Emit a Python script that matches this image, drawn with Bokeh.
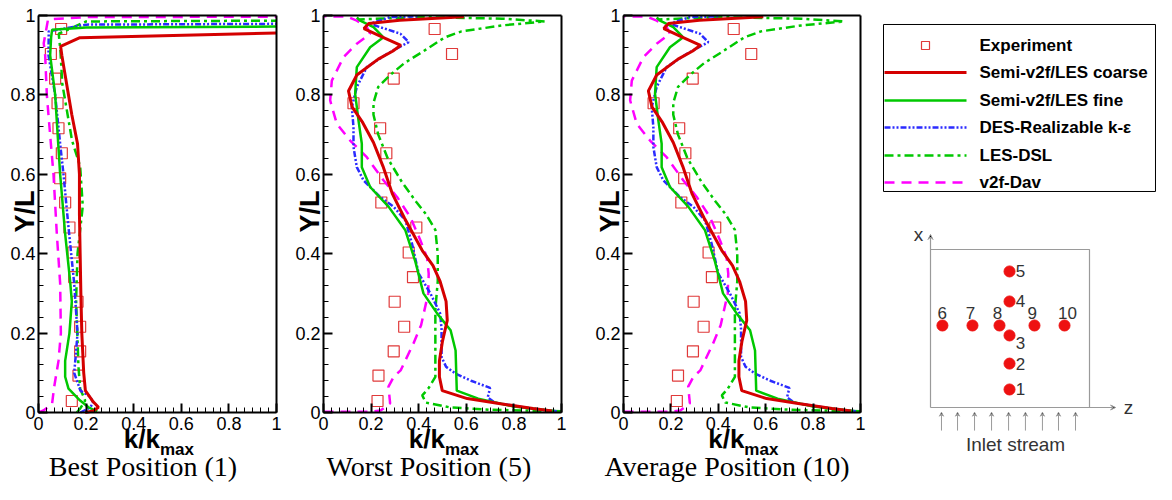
from bokeh.plotting import figure
from bokeh.layouts import row
from bokeh.models import (Range1d, FixedTicker, NumeralTickFormatter, Label,
                          LinearAxis, Arrow, VeeHead)
from bokeh.embed import file_html
from bokeh.resources import INLINE

# ---------------- data ----------------
EXP_Y = [0.029, 0.093, 0.154, 0.216, 0.279, 0.341, 0.403, 0.466, 0.529, 0.590,
         0.653, 0.716, 0.779, 0.841, 0.903, 0.966]

# Panel 1 : Best Position (1)
P1_EXP_X = [0.140, 0.168, 0.175, 0.175, 0.164, 0.150, 0.147, 0.130, 0.112, 0.091,
            0.098, 0.084, 0.080, 0.070, 0.052, 0.095]
P1_RED_X = [0.196, 0.230, 0.252, 0.230, 0.197, 0.190, 0.182, 0.178, 0.175, 0.172,
            0.172, 0.164, 0.140, 0.126, 0.098, 0.093, 0.174, 1.0]
P1_RED_Y = [0.000, 0.004, 0.013, 0.027, 0.055, 0.100, 0.200, 0.300, 0.400, 0.500,
            0.600, 0.677, 0.750, 0.800, 0.900, 0.922, 0.944, 0.956]
P1_GRN_X = [0.247, 0.210, 0.175, 0.126, 0.112, 0.112, 0.130, 0.140, 0.133, 0.112,
            0.091, 0.070, 0.049, 0.053, 0.057, 0.200, 1.0]
P1_GRN_Y = [0.003, 0.013, 0.030, 0.060, 0.090, 0.130, 0.200, 0.280, 0.330, 0.450,
            0.600, 0.800, 0.900, 0.945, 0.964, 0.970, 0.972]
P1_DES_X = [0.176, 0.218, 0.230, 0.217, 0.176, 0.150, 0.156, 0.164, 0.150, 0.126,
            0.105, 0.091, 0.070, 0.042, 0.043, 0.200, 1.0]
P1_DES_Y = [0.000, 0.013, 0.025, 0.040, 0.055, 0.100, 0.140, 0.200, 0.325, 0.467,
            0.600, 0.677, 0.800, 0.900, 0.960, 0.977, 0.979]
P1_LES_X = [0.161, 0.175, 0.196, 0.175, 0.168, 0.158, 0.164, 0.186, 0.175, 0.141,
            0.100, 0.092, 0.085, 0.200, 1.0]
P1_LES_Y = [0.000, 0.010, 0.030, 0.060, 0.115, 0.283, 0.400, 0.520, 0.620, 0.685,
            0.828, 0.912, 0.954, 0.985, 0.987]
P1_V2F_X = [0.000, 0.021, 0.057, 0.066, 0.084, 0.094, 0.091, 0.077, 0.063, 0.052,
            0.035, 0.028, 0.022, 0.040, 0.200, 1.0]
P1_V2F_Y = [0.000, 0.005, 0.022, 0.065, 0.130, 0.200, 0.325, 0.450, 0.600, 0.677,
            0.800, 0.900, 0.930, 0.990, 0.996, 0.997]

# Panel 2 : Worst Position (5)
P2_EXP_X = [0.227, 0.231, 0.295, 0.339, 0.299, 0.376, 0.358, 0.390, 0.243, 0.259,
            0.264, 0.238, 0.126, 0.295, 0.540, 0.467]
P2_RED_X = [0.96, 0.88, 0.744, 0.604, 0.499, 0.487, 0.487, 0.50, 0.52, 0.515,
            0.49, 0.46, 0.415, 0.34, 0.29, 0.25, 0.21, 0.165, 0.12, 0.105, 0.14,
            0.23, 0.29, 0.325, 0.25, 0.17, 0.19, 0.32, 0.59]
P2_RED_Y = [0.004, 0.010, 0.022, 0.035, 0.055, 0.090, 0.130, 0.180, 0.232, 0.280,
            0.330, 0.370, 0.408, 0.490, 0.550, 0.620, 0.680, 0.730, 0.770, 0.810,
            0.850, 0.890, 0.910, 0.925, 0.945, 0.967, 0.980, 0.988, 0.997]
P2_GRN_X = [0.97, 0.80, 0.65, 0.56, 0.555, 0.534, 0.478, 0.42, 0.386, 0.344,
            0.274, 0.196, 0.161, 0.161, 0.147, 0.133, 0.14, 0.196, 0.252, 0.21,
            0.154, 0.14]
P2_GRN_Y = [0.004, 0.015, 0.035, 0.055, 0.156, 0.207, 0.249, 0.300, 0.380, 0.459,
            0.518, 0.568, 0.618, 0.677, 0.736, 0.803, 0.870, 0.920, 0.945, 0.971,
            0.987, 0.995]
P2_DES_X = [0.98, 0.85, 0.72, 0.69, 0.70, 0.62, 0.555, 0.515, 0.496, 0.496, 0.49,
            0.449, 0.40, 0.372, 0.344, 0.295, 0.238, 0.168, 0.14, 0.126, 0.126,
            0.119, 0.14, 0.182, 0.266, 0.358, 0.323, 0.196, 0.28, 0.40]
P2_DES_Y = [0.003, 0.012, 0.025, 0.038, 0.062, 0.080, 0.098, 0.115, 0.140, 0.210,
            0.250, 0.300, 0.350, 0.425, 0.484, 0.518, 0.543, 0.585, 0.618, 0.669,
            0.719, 0.769, 0.820, 0.870, 0.903, 0.933, 0.954, 0.979, 0.996, 0.998]
P2_LES_X = [1.0, 0.70, 0.53, 0.43, 0.415, 0.44, 0.47, 0.47, 0.47, 0.48, 0.48,
            0.47, 0.43, 0.39, 0.33, 0.27, 0.23, 0.21, 0.21, 0.23, 0.28, 0.34, 0.42,
            0.51, 0.58, 0.75, 0.93, 0.75, 0.40, 0.15]
P2_LES_Y = [0.003, 0.007, 0.013, 0.025, 0.043, 0.060, 0.090, 0.150, 0.260, 0.330,
            0.400, 0.460, 0.500, 0.530, 0.580, 0.640, 0.700, 0.750, 0.780, 0.820,
            0.850, 0.880, 0.910, 0.945, 0.960, 0.975, 0.985, 0.992, 0.996, 0.990]
P2_V2F_X = [0.0, 0.20, 0.24, 0.28, 0.273, 0.295, 0.324, 0.378, 0.41, 0.44, 0.442,
            0.435, 0.407, 0.365, 0.309, 0.252, 0.182, 0.112, 0.056, 0.028, 0.035,
            0.084, 0.14, 0.196, 0.182, 0.14, 0.10, 0.0]
P2_V2F_Y = [0.002, 0.002, 0.005, 0.023, 0.065, 0.090, 0.106, 0.174, 0.220, 0.300,
            0.350, 0.390, 0.434, 0.492, 0.543, 0.585, 0.643, 0.685, 0.727, 0.786,
            0.836, 0.895, 0.929, 0.954, 0.971, 0.987, 0.997, 0.998]

# Panel 3 : Average Position (10)
P3_EXP_X = [0.225, 0.230, 0.293, 0.338, 0.296, 0.373, 0.359, 0.387, 0.244, 0.256,
            0.261, 0.235, 0.127, 0.292, 0.539, 0.465]
P3_RED_X = [0.96, 0.88, 0.744, 0.604, 0.499, 0.487, 0.487, 0.50, 0.52, 0.515,
            0.49, 0.46, 0.415, 0.34, 0.29, 0.25, 0.21, 0.165, 0.12, 0.105, 0.14,
            0.23, 0.29, 0.325, 0.25, 0.17, 0.19, 0.32, 0.59]
P3_RED_Y = [0.004, 0.010, 0.022, 0.035, 0.055, 0.090, 0.130, 0.180, 0.232, 0.280,
            0.330, 0.370, 0.408, 0.490, 0.550, 0.620, 0.680, 0.730, 0.770, 0.810,
            0.850, 0.890, 0.910, 0.925, 0.945, 0.967, 0.980, 0.988, 0.997]
P3_GRN_X = [0.97, 0.80, 0.65, 0.56, 0.555, 0.534, 0.478, 0.42, 0.386, 0.344,
            0.274, 0.196, 0.161, 0.161, 0.147, 0.133, 0.14, 0.196, 0.252, 0.21,
            0.154, 0.14]
P3_GRN_Y = [0.004, 0.015, 0.035, 0.055, 0.156, 0.207, 0.249, 0.300, 0.380, 0.459,
            0.518, 0.568, 0.618, 0.677, 0.736, 0.803, 0.870, 0.920, 0.945, 0.971,
            0.987, 0.995]
P3_DES_X = [0.98, 0.85, 0.72, 0.69, 0.70, 0.62, 0.555, 0.515, 0.496, 0.496, 0.49,
            0.449, 0.40, 0.372, 0.344, 0.295, 0.238, 0.168, 0.14, 0.126, 0.126,
            0.119, 0.14, 0.182, 0.266, 0.358, 0.323, 0.196, 0.28, 0.40]
P3_DES_Y = [0.003, 0.012, 0.025, 0.038, 0.062, 0.080, 0.098, 0.115, 0.140, 0.210,
            0.250, 0.300, 0.350, 0.425, 0.484, 0.518, 0.543, 0.585, 0.618, 0.669,
            0.719, 0.769, 0.820, 0.870, 0.903, 0.933, 0.954, 0.979, 0.996, 0.998]
P3_LES_X = [1.0, 0.70, 0.53, 0.43, 0.415, 0.44, 0.47, 0.47, 0.47, 0.48, 0.48,
            0.47, 0.43, 0.39, 0.33, 0.27, 0.23, 0.21, 0.21, 0.23, 0.28, 0.34, 0.42,
            0.51, 0.58, 0.75, 0.93, 0.75, 0.40, 0.15]
P3_LES_Y = [0.003, 0.007, 0.013, 0.025, 0.043, 0.060, 0.090, 0.150, 0.260, 0.330,
            0.400, 0.460, 0.500, 0.530, 0.580, 0.640, 0.700, 0.750, 0.780, 0.820,
            0.850, 0.880, 0.910, 0.945, 0.960, 0.975, 0.985, 0.992, 0.996, 0.990]
P3_V2F_X = [0.0, 0.20, 0.24, 0.28, 0.273, 0.295, 0.324, 0.378, 0.41, 0.44, 0.442,
            0.435, 0.407, 0.365, 0.309, 0.252, 0.182, 0.112, 0.056, 0.028, 0.035,
            0.084, 0.14, 0.196, 0.182, 0.14, 0.10, 0.0]
P3_V2F_Y = [0.002, 0.002, 0.005, 0.023, 0.065, 0.090, 0.106, 0.174, 0.220, 0.300,
            0.350, 0.390, 0.434, 0.492, 0.543, 0.585, 0.643, 0.685, 0.727, 0.786,
            0.836, 0.895, 0.929, 0.954, 0.971, 0.987, 0.997, 0.998]

SERIES_NAMES = ["Experiment", "Semi-v2f/LES coarse", "Semi-v2f/LES fine",
                "DES-Realizable k-\u03b5", "LES-DSL", "v2f-Dav"]
PANEL_TITLES = ["Best Position (1)", "Worst Position (5)", "Average Position (10)"]
TICKS = [0, 0.2, 0.4, 0.6, 0.8, 1.0]

# schematic (probe positions in box-normalised z / x units)
PROBE_ID = ["1", "2", "3", "4", "5", "6", "7", "8", "9", "10"]
PROBE_Z = [0.497, 0.497, 0.497, 0.497, 0.497, 0.075, 0.264, 0.434, 0.654, 0.843]
PROBE_X = [0.114, 0.278, 0.456, 0.671, 0.861, 0.519, 0.519, 0.519, 0.519, 0.519]
PROBE_LABEL_Z = [0.566, 0.566, 0.566, 0.566, 0.566, 0.074, 0.252, 0.421, 0.640, 0.862]
PROBE_LABEL_X = [0.114, 0.278, 0.411, 0.671, 0.861, 0.601, 0.601, 0.601, 0.601, 0.601]
INLET_Z = [0.069, 0.170, 0.277, 0.384, 0.491, 0.597, 0.704, 0.805, 0.912]

# ---------------- styles ----------------
RED = "#d40000"
GREEN = "#00c800"
BLUE = "#2b2bff"
MAGENTA = "#ff00ff"
EXP_COLOR = "#e03a3a"
SANS = "Liberation Sans"
SERIF = "Liberation Serif"

STYLES = {
    "red": dict(line_color=RED, line_width=3),
    "grn": dict(line_color=GREEN, line_width=2.5),
    "des": dict(line_color=BLUE, line_width=2.5, line_dash="6 2 2 2 2 2"),
    "les": dict(line_color=GREEN, line_width=2.5, line_dash="9 4 3 4"),
    "v2f": dict(line_color=MAGENTA, line_width=2.5, line_dash="10 7"),
}

FIG_H = 484
# the plotting frame spans the whole canvas; the unit box [0,1]x[0,1] is
# framed by axes pinned at 0 and 1 (fixed_location), labels sit around it.
Y_RANGE = (-0.18136, 1.03778)


def framed_axis(loc, ticks, minor):
    return LinearAxis(fixed_location=loc, bounds=(0, 1),
                      ticker=FixedTicker(ticks=ticks, minor_ticks=minor),
                      formatter=NumeralTickFormatter(format="0.[0]"),
                      axis_line_color="black", axis_line_width=2,
                      major_tick_line_color="black", major_tick_line_width=2,
                      major_tick_in=9, major_tick_out=0,
                      minor_tick_line_color="black", minor_tick_line_width=1,
                      minor_tick_in=5, minor_tick_out=0,
                      major_label_text_font=SANS, major_label_text_font_size="18px",
                      major_label_text_color="black")


def make_panel(exp_x, red, grn, des, les, v2f, title, x_range, fig_w,
               ylab_x, title_x):
    p = figure(frame_width=fig_w, frame_height=FIG_H,
               x_range=Range1d(*x_range), y_range=Range1d(*Y_RANGE),
               x_axis_type=None, y_axis_type=None, min_border=0,
               output_backend="svg", toolbar_location=None)
    p.outline_line_color = None

    xa = framed_axis(0, TICKS, [i / 30 for i in range(31)])
    xa.major_label_standoff = 5
    p.add_layout(xa, "below")
    ya = framed_axis(0, TICKS, [i / 25 for i in range(26)])
    ya.major_label_standoff = 3
    p.add_layout(ya, "left")
    p.add_layout(framed_axis(1, [], []), "above")
    p.add_layout(framed_axis(1, [], []), "right")

    p.scatter(exp_x, EXP_Y, marker="square", size=11, fill_color=None,
              line_color=EXP_COLOR, line_width=1.2)
    p.line(v2f[0], v2f[1], **STYLES["v2f"])
    p.line(les[0], les[1], **STYLES["les"])
    p.line(des[0], des[1], **STYLES["des"])
    p.line(grn[0], grn[1], **STYLES["grn"])
    p.line(red[0], red[1], **STYLES["red"])

    p.add_layout(Label(x=ylab_x, y=0.5063, text="Y/L", angle=1.5708,
                       text_align="center", text_baseline="middle",
                       text_font=SANS, text_font_style="bold", text_font_size="27px",
                       text_color="black"))
    p.add_layout(Label(x=0.51, y=-0.0655, text="k/k", text_align="right",
                       text_baseline="middle", text_font=SANS,
                       text_font_style="bold", text_font_size="26px", text_color="black"))
    p.add_layout(Label(x=0.51, y=-0.0932, text="max", text_align="left",
                       text_baseline="middle", text_font=SANS,
                       text_font_style="bold", text_font_size="17px", text_color="black"))
    p.add_layout(Label(x=title_x, y=-0.1360, text=title, text_align="center",
                       text_baseline="middle", text_font=SERIF,
                       text_font_size="28px", text_color="black"))
    return p


p1 = make_panel(P1_EXP_X, (P1_RED_X, P1_RED_Y), (P1_GRN_X, P1_GRN_Y),
                (P1_DES_X, P1_DES_Y), (P1_LES_X, P1_LES_Y), (P1_V2F_X, P1_V2F_Y),
                PANEL_TITLES[0], (-0.15966, 1.04202), 286, -0.055, 0.439)
p2 = make_panel(P2_EXP_X, (P2_RED_X, P2_RED_Y), (P2_GRN_X, P2_GRN_Y),
                (P2_DES_X, P2_DES_Y), (P2_LES_X, P2_LES_Y), (P2_V2F_X, P2_V2F_Y),
                PANEL_TITLES[1], (-0.15546, 1.04202), 285, -0.055, 0.443)
p3 = make_panel(P3_EXP_X, (P3_RED_X, P3_RED_Y), (P3_GRN_X, P3_GRN_Y),
                (P3_DES_X, P3_DES_Y), (P3_LES_X, P3_LES_Y), (P3_V2F_X, P3_V2F_Y),
                PANEL_TITLES[2], (-0.21941, 1.04219), 299, -0.059, 0.437)

# ---------------- right column: key box + schematic ----------------
# coordinates of this figure: z / x normalised to the schematic box
q = figure(frame_width=286, frame_height=FIG_H, x_range=Range1d(-0.3774, 1.4214),
           y_range=Range1d(-0.4873, 2.5759), output_backend="svg",
           toolbar_location=None, min_border=0, x_axis_type=None, y_axis_type=None)
q.outline_line_color = None

KEY_LEFT, KEY_RIGHT, KEY_TOP, KEY_BOTTOM = -0.2956, 1.4151, 2.4241, 1.3671
KEY_ROWS = [2.2911, 2.1203, 1.9430, 1.7722, 1.5949, 1.4241]
KEY_SAMPLE = (-0.2893, 0.2264)
KEY_TEXT_Z = 0.3082
q.quad(left=[KEY_LEFT], right=[KEY_RIGHT], top=[KEY_TOP], bottom=[KEY_BOTTOM],
       fill_color="white", line_color="black", line_width=1)
q.scatter([(KEY_SAMPLE[0] + KEY_SAMPLE[1]) / 2], [KEY_ROWS[0]], marker="square",
          size=8, fill_color=None, line_color=EXP_COLOR, line_width=1.2)
for yrow, key in zip(KEY_ROWS[1:], ["red", "grn", "des", "les", "v2f"]):
    q.line([KEY_SAMPLE[0], KEY_SAMPLE[1]], [yrow, yrow], **STYLES[key])
q.text([KEY_TEXT_Z] * len(SERIES_NAMES), KEY_ROWS, text=SERIES_NAMES,
       text_align="left", text_baseline="middle", text_font={"value": SANS},
       text_font_style="bold", text_font_size="17px", text_color="black")

GRAY = "#9a9a9a"
TXT = "#333333"
q.line([0, 1, 1], [1, 1, 0], line_color=GRAY, line_width=1.2)
q.add_layout(Arrow(end=VeeHead(size=5, line_color=GRAY, line_width=1),
                   x_start=0, y_start=0, x_end=0, y_end=1.095,
                   line_color=GRAY, line_width=1.2))
q.add_layout(Arrow(end=VeeHead(size=5, line_color=GRAY, line_width=1),
                   x_start=0, y_start=0, x_end=1.164, y_end=0,
                   line_color=GRAY, line_width=1.2))
for z in INLET_Z:
    q.add_layout(Arrow(end=VeeHead(size=4, line_color=GRAY, line_width=1),
                       x_start=z, y_start=-0.146, x_end=z, y_end=-0.03,
                       line_color=GRAY, line_width=1))
q.scatter(PROBE_Z, PROBE_X, size=11, color="#ee1111")
q.text(PROBE_LABEL_Z, PROBE_LABEL_X, text=PROBE_ID, text_align="center",
       text_baseline="middle", text_font_size="17px", text_color=TXT,
       text_font={"value": SANS})
q.add_layout(Label(x=-0.075, y=1.095, text="x", text_align="center",
                   text_baseline="middle", text_font=SANS, text_font_size="19px",
                   text_color=TXT))
q.add_layout(Label(x=1.245, y=0, text="z", text_align="center",
                   text_baseline="middle", text_font=SANS, text_font_size="19px",
                   text_color=TXT))
q.add_layout(Label(x=0.535, y=-0.234, text="Inlet stream", text_align="center",
                   text_baseline="middle", text_font=SANS, text_font_size="19px",
                   text_color=TXT))

layout = row(p1, p2, p3, q)
open("out.html", "w").write(file_html(layout, INLINE))
